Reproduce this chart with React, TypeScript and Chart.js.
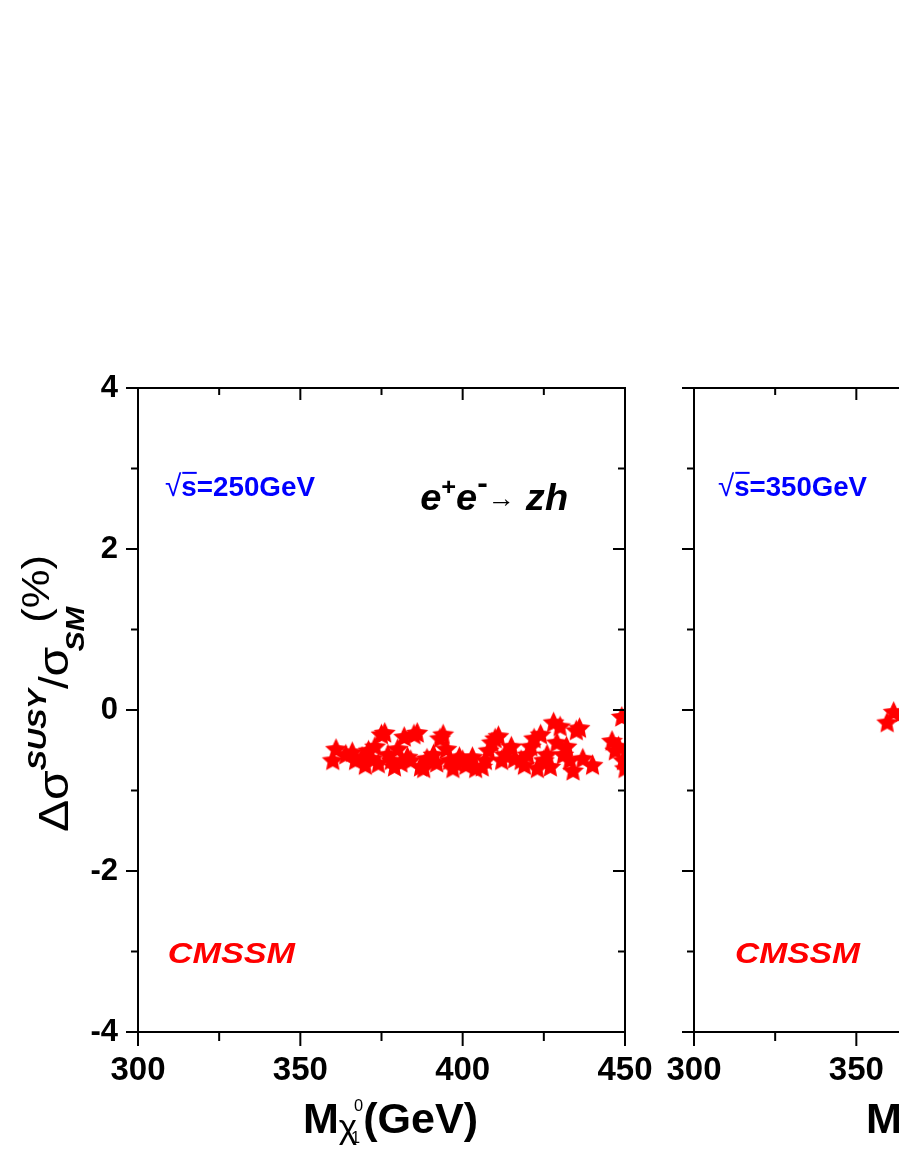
import React, { useEffect, useRef } from "react";
import { Chart, registerables } from "chart.js";

Chart.register(...registerables);

const FONT = '"Liberation Sans", Arial, Helvetica, sans-serif';

const xTickValues = [300, 350, 400, 450];
const xMinorTickValues = [325, 375, 425];
const yTickValues = [-4, -2, 0, 2, 4];
const yMinorTickValues = [-3, -1, 1, 3];

// sqrt(s) = 250 GeV panel
const mass250 = [
  360, 361, 364, 366, 367, 369, 370, 371, 372, 373, 374, 375, 376, 377, 378, 379,
  380, 381, 382, 383, 384, 385, 386, 387, 388, 389, 391, 392, 393, 394, 395, 396,
  397, 398, 399, 400, 401, 403, 404, 406, 407, 408, 409, 410, 411, 412, 413, 415,
  416, 418, 419, 420, 421, 422, 423, 424, 425, 426, 427, 428, 429, 430, 431, 432,
  433, 434, 435, 436, 437, 440, 446, 447, 448, 449, 449.5, 450,
];
const delta250 = [
  -0.62, -0.48, -0.55, -0.52, -0.62, -0.58, -0.68, -0.5, -0.6, -0.45, -0.66, -0.3, -0.28, -0.55, -0.62, -0.7,
  -0.48, -0.65, -0.33, -0.58, -0.62, -0.3, -0.28, -0.7, -0.72, -0.6, -0.55, -0.65, -0.35, -0.3, -0.48, -0.62,
  -0.72, -0.65, -0.58, -0.62, -0.68, -0.58, -0.72, -0.7, -0.62, -0.5, -0.4, -0.35, -0.32, -0.62, -0.55, -0.45,
  -0.6, -0.62, -0.68, -0.55, -0.45, -0.35, -0.72, -0.3, -0.62, -0.55, -0.7, -0.15, -0.4, -0.2, -0.55, -0.45,
  -0.62, -0.75, -0.25, -0.22, -0.6, -0.68, -0.38, -0.5, -0.45, -0.08, -0.62, -0.72,
];

// sqrt(s) = 350 GeV panel (visible part)
const mass350 = [359.5, 361.5, 364];
const delta350 = [-0.15, -0.02, -0.03];

type Run = { text: string; font: string; dy?: number; dx?: number; advance?: boolean };

function makeStar(size: number, color: string): HTMLCanvasElement {
  const c = document.createElement("canvas");
  c.width = size;
  c.height = size;
  const g = c.getContext("2d")!;
  const R = size / 2;
  const r = R * 0.48;
  g.beginPath();
  for (let i = 0; i < 10; i++) {
    const a = -Math.PI / 2 + (i * Math.PI) / 5;
    const rad = i % 2 === 0 ? R : r;
    g.lineTo(R + rad * Math.cos(a), R + 1 + rad * Math.sin(a));
  }
  g.closePath();
  g.fillStyle = color;
  g.fill();
  return c;
}

function measureRuns(ctx: CanvasRenderingContext2D, runs: Run[]) {
  let w = 0;
  for (const r of runs) {
    ctx.font = r.font;
    w += r.dx || 0;
    if (r.advance !== false) w += ctx.measureText(r.text).width;
  }
  return w;
}

function drawRuns(
  ctx: CanvasRenderingContext2D,
  runs: Run[],
  color: string,
  targetWidth: number,
  overline?: { from: number; to: number; dy: number }
) {
  const natural = measureRuns(ctx, runs);
  const sx = targetWidth / natural;
  ctx.save();
  ctx.scale(sx, 1);
  ctx.fillStyle = color;
  ctx.textBaseline = "alphabetic";
  ctx.textAlign = "left";
  let x = 0;
  const starts: number[] = [];
  const ends: number[] = [];
  for (const r of runs) {
    ctx.font = r.font;
    x += r.dx || 0;
    const w = ctx.measureText(r.text).width;
    starts.push(x);
    ends.push(x + w);
    ctx.fillText(r.text, x, r.dy || 0);
    if (r.advance !== false) x += w;
  }
  if (overline) {
    ctx.strokeStyle = color;
    ctx.lineWidth = 2;
    ctx.beginPath();
    ctx.moveTo(starts[overline.from] + 1, overline.dy);
    ctx.lineTo(ends[overline.to], overline.dy);
    ctx.stroke();
  }
  ctx.restore();
}

type Note = {
  x: number;
  y: number;
  runs: Run[];
  color: string;
  width: number;
  overline?: { from: number; to: number; dy: number };
};

type PanelOpts = {
  notes: Note[];
  yTitle: boolean;
  xTitleOffset: number;
};

const bi = (s: number) => `italic bold ${s}px ${FONT}`;
const b = (s: number) => `bold ${s}px ${FONT}`;
const n = (s: number) => `${s}px ${FONT}`;

function sqrtRuns(label: string): Run[] {
  return [
    { text: "\u221A", font: n(30) },
    { text: "s", font: b(28) },
    { text: "=" + label, font: b(28) },
  ];
}

function makePanelPlugin(opts: PanelOpts) {
  return {
    id: "panelDecor",
    afterDraw(chart: any) {
      const ctx: CanvasRenderingContext2D = chart.ctx;
      const a = chart.chartArea;
      const xs = chart.scales.x;
      const ys = chart.scales.y;
      ctx.save();
      // frame
      ctx.strokeStyle = "#000";
      ctx.lineWidth = 2;
      ctx.strokeRect(a.left, a.top, a.right - a.left, a.bottom - a.top);
      const line = (x1: number, y1: number, x2: number, y2: number) => {
        ctx.beginPath();
        ctx.moveTo(x1, y1);
        ctx.lineTo(x2, y2);
        ctx.stroke();
      };
      const major = 12;
      const minor = 7;
      xTickValues.forEach((v) => {
        const p = xs.getPixelForValue(v);
        line(p, a.bottom, p, a.bottom + major + 2);
        line(p, a.top, p, a.top + major);
      });
      xMinorTickValues.forEach((v) => {
        const p = xs.getPixelForValue(v);
        line(p, a.bottom, p, a.bottom + minor + 2);
        line(p, a.top, p, a.top + minor);
      });
      yTickValues.forEach((v) => {
        const p = ys.getPixelForValue(v);
        line(a.left - major, p, a.left, p);
        line(a.right - major, p, a.right, p);
      });
      yMinorTickValues.forEach((v) => {
        const p = ys.getPixelForValue(v);
        line(a.left - minor, p, a.left, p);
        line(a.right - minor, p, a.right, p);
      });

      // notes
      opts.notes.forEach((nt) => {
        ctx.save();
        ctx.translate(xs.getPixelForValue(nt.x), ys.getPixelForValue(nt.y));
        drawRuns(ctx, nt.runs, nt.color, nt.width, nt.overline);
        ctx.restore();
      });

      // x title
      ctx.save();
      ctx.translate(a.left + opts.xTitleOffset, a.bottom + 101);
      drawRuns(
        ctx,
        [
          { text: "M", font: b(42) },
          { text: "\u03C7", font: n(34), dy: 5 },
          { text: "0", font: n(16), dy: -22, dx: -3, advance: false },
          { text: "1", font: n(16), dy: 10, dx: -3 },
          { text: "(GeV)", font: b(42), dx: 3 },
        ],
        "#000",
        175
      );
      ctx.restore();

      // y title
      if (opts.yTitle) {
        ctx.save();
        ctx.translate(a.left - 70, a.bottom - 200);
        ctx.rotate(-Math.PI / 2);
        drawRuns(
          ctx,
          [
            { text: "\u0394\u03C3", font: n(42) },
            { text: "SUSY", font: bi(26), dy: -22 },
            { text: "/", font: n(40) },
            { text: "\u03C3", font: n(42) },
            { text: "SM", font: bi(26), dy: 16, dx: -4 },
            { text: "(%)", font: n(38), dy: -19, dx: -14 },
          ],
          "#000",
          277
        );
        ctx.restore();
      }
      ctx.restore();
    },
  };
}

function baseOptions(showYLabels: boolean, yWidth: number, rightPad: number) {
  return {
    responsive: false,
    animation: false as const,
    events: [] as any[],
    layout: { padding: { top: 388, right: rightPad, left: 0, bottom: 0 } },
    plugins: { legend: { display: false }, tooltip: { enabled: false } },
    scales: {
      x: {
        type: "linear" as const,
        min: 300,
        max: 450,
        afterBuildTicks: (axis: any) => {
          axis.ticks = xTickValues.map((v) => ({ value: v }));
        },
        grid: { display: false, drawTicks: false },
        border: { display: false },
        ticks: {
          color: "#000",
          font: { family: FONT, size: 33, weight: "bold" as const },
          padding: 19,
          maxRotation: 0,
          autoSkip: false,
          callback: (v: any) => String(v),
        },
        afterFit: (axis: any) => {
          axis.height = 131;
          axis.paddingLeft = 0;
          axis.paddingRight = 0;
        },
      },
      y: {
        type: "linear" as const,
        min: -4,
        max: 4,
        afterBuildTicks: (axis: any) => {
          axis.ticks = yTickValues.map((v) => ({ value: v }));
        },
        grid: { display: false, drawTicks: false },
        border: { display: false },
        ticks: {
          display: showYLabels,
          color: "#000",
          font: { family: FONT, size: 31, weight: "bold" as const },
          padding: 20,
          autoSkip: false,
          callback: (v: any) => String(v),
        },
        afterFit: (axis: any) => {
          axis.width = yWidth;
          axis.paddingTop = 0;
          axis.paddingBottom = 0;
        },
      },
    },
  };
}

function toPoints(xs: number[], ys: number[]) {
  return xs.map((x, i) => ({ x, y: ys[i] }));
}

export default function App() {
  const leftRef = useRef<HTMLCanvasElement>(null);
  const rightRef = useRef<HTMLCanvasElement>(null);

  useEffect(() => {
    const star = makeStar(23, "#ff0000");
    const left = new Chart(leftRef.current!, {
      type: "scatter",
      data: {
        datasets: [
          {
            data: toPoints(mass250, delta250),
            pointStyle: star as any,
            pointRadius: 10,
            clip: 0,
          } as any,
        ],
      },
      options: baseOptions(true, 138, 35) as any,
      plugins: [
        makePanelPlugin({
          yTitle: true,
          xTitleOffset: 165,
          notes: [
            {
              x: 308.3,
              y: 2.66,
              runs: sqrtRuns("250GeV"),
              color: "#0000ff",
              width: 150,
              overline: { from: 1, to: 1, dy: -23 },
            },
            {
              x: 386.9,
              y: 2.48,
              runs: [
                { text: "e", font: bi(36) },
                { text: "+", font: b(24), dy: -15 },
                { text: "e", font: bi(36) },
                { text: "-", font: b(30), dy: -17 },
                { text: "\u2192", font: n(26), dy: -3 },
                { text: " zh", font: bi(36) },
              ],
              color: "#000",
              width: 148,
            },
            {
              x: 309.2,
              y: -3.14,
              runs: [{ text: "CMSSM", font: bi(30) }],
              color: "#ff0000",
              width: 127,
            },
          ],
        }) as any,
      ],
    });

    const right = new Chart(rightRef.current!, {
      type: "scatter",
      data: {
        datasets: [
          {
            data: toPoints(mass350, delta350),
            pointStyle: star as any,
            pointRadius: 10,
            clip: 0,
          } as any,
        ],
      },
      options: baseOptions(false, 34, 39) as any,
      plugins: [
        makePanelPlugin({
          yTitle: false,
          xTitleOffset: 172,
          notes: [
            {
              x: 307.4,
              y: 2.66,
              runs: sqrtRuns("350GeV"),
              color: "#0000ff",
              width: 149,
              overline: { from: 1, to: 1, dy: -23 },
            },
            {
              x: 312.6,
              y: -3.14,
              runs: [{ text: "CMSSM", font: bi(30) }],
              color: "#ff0000",
              width: 125,
            },
          ],
        }) as any,
      ],
    });

    return () => {
      left.destroy();
      right.destroy();
    };
  }, []);

  return (
    <div
      style={{
        position: "absolute",
        left: 0,
        top: 0,
        width: 899,
        height: 1163,
        overflow: "hidden",
        background: "#fff",
      }}
    >
      <canvas
        ref={leftRef}
        width={660}
        height={1163}
        style={{ position: "absolute", left: 0, top: 0, width: 660, height: 1163 }}
      />
      <canvas
        ref={rightRef}
        width={560}
        height={1163}
        style={{ position: "absolute", left: 660, top: 0, width: 560, height: 1163 }}
      />
    </div>
  );
}
